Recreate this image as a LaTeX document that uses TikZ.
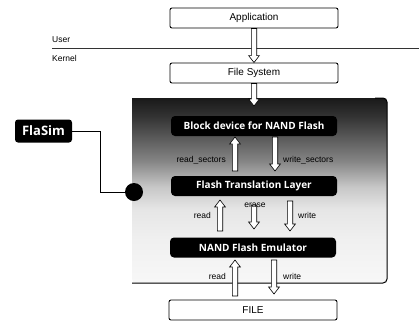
\documentclass[tikz,border=0pt]{standalone}
\usepackage{fontspec}
\setmainfont{Liberation Sans}
\newfontfamily\boxfont{Open Sans}
\usetikzlibrary{calc}

% fill of the kernel area; the path covers the 25bp..75bp band,
% dark at the top edge, fading out towards the bottom
\pgfdeclareverticalshading{kernelfade}{100bp}{%
  color(0bp)=(black!3); color(25bp)=(black!3); color(37bp)=(black!6);
  color(45bp)=(black!10); color(51bp)=(black!22); color(58bp)=(black!48);
  color(70bp)=(black!80); color(75bp)=(black!90); color(100bp)=(black!90)}

\tikzset{
  whitebox/.style={draw=black, line width=0.9pt, fill=white, rounded corners=2pt,
    minimum width=168pt, minimum height=20pt, inner sep=0pt,
    font=\fontsize{10}{12}\selectfont},
  blackbox/.style={fill=black, rounded corners=4pt, text=white,
    minimum width=166pt, minimum height=20pt, inner sep=0pt,
    font=\boxfont\bfseries\fontsize{10}{12}\selectfont},
  lbl/.style={font=\fontsize{8.5}{10}\selectfont, inner sep=0pt},
  hollow/.style={fill=white, draw=black, line width=0.6pt},
  wire/.style={draw=black, line width=1pt},
}

% outlined block arrow from #1 to #2
\newcommand\hollowarrow[2]{%
  \coordinate (ha-h) at ($(#2)!7pt!(#1)$);
  \filldraw[hollow] ($(#1)!2.7pt!90:(#2)$) -- ($(ha-h)!2.7pt!90:(#2)$)
    -- ($(ha-h)!5.4pt!90:(#2)$) -- (#2) -- ($(ha-h)!5.4pt!-90:(#2)$)
    -- ($(ha-h)!2.7pt!-90:(#2)$) -- ($(#1)!2.7pt!-90:(#2)$) -- cycle;
}

\begin{document}
\begin{tikzpicture}[x=1pt, y=-1pt]
\useasboundingbox (0,0) rectangle (419,322);

% kernel area
\shade[shading=kernelfade] (132,283) -- (132,98) [rounded corners=4pt] -- (387,98) -- (387,283) -- cycle;
\draw[line width=1pt, rounded corners=4pt] (132,283) -- (387,283) -- (387,98) -- (375,98);

% user / kernel boundary
\draw[line width=0.8pt, black!80] (52,48) -- (419,48);
\node[lbl, anchor=west] (user) at (52,40) {User};
\node[lbl, anchor=west] (kernel) at (52,58) {Kernel};

% layers
\node[whitebox] (app) at (254,18) {Application};
\node[whitebox] (fs) at (254,73) {File System};
\node[blackbox] (bd) at (254,126) {Block device for NAND Flash};
\node[blackbox] (ftl) at (254,186) {Flash Translation Layer};
\node[blackbox] (nand) at (253,247.5) {NAND Flash Emulator};
\node[whitebox] (file) at (253,310) {FILE};

% simulator tag
\node[fill=black, rounded corners=3pt, minimum width=57pt, minimum height=23pt,
  inner sep=0pt, text=white, font=\boxfont\bfseries\fontsize{13}{15}\selectfont]
  (flasim) at (43.5,131) {FlaSim};
\node[circle, fill=black, minimum size=18pt, inner sep=0pt] (dot) at (134,192) {};
\draw[wire] (flasim.east) -- ++(28,0) |- (dot);

% end points of the block arrows
\coordinate (fsin) at (254,106);
\coordinate (rs1) at (235,171);  \coordinate (rs2) at (235,137);
\coordinate (ws1) at (275,137);  \coordinate (ws2) at (275,171);
\coordinate (fr1) at (220,231);  \coordinate (fr2) at (220,200);
\coordinate (fe1) at (254,205);  \coordinate (fe2) at (254,229);
\coordinate (fw1) at (290,201);  \coordinate (fw2) at (290,231);
\coordinate (nr1) at (235,296);  \coordinate (nr2) at (235,260);
\coordinate (nw1) at (274,260);  \coordinate (nw2) at (274,294);

\hollowarrow{app.south}{fs.north}
\hollowarrow{fs.south}{fsin}
\hollowarrow{rs1}{rs2}
\hollowarrow{ws1}{ws2}
\hollowarrow{fr1}{fr2}
\hollowarrow{fe1}{fe2}
\hollowarrow{fw1}{fw2}
\hollowarrow{nr1}{nr2}
\hollowarrow{nw1}{nw2}

% operation labels
\node[lbl, anchor=east] (lrs) at (226,160) {read\_sectors};
\node[lbl, anchor=west] (lws) at (283,160) {write\_sectors};
\node[lbl, anchor=east] (lfr) at (211,215) {read};
\node[lbl] (lfe) at (255,205) {erase};
\node[lbl, anchor=west] (lfw) at (298,215) {write};
\node[lbl, anchor=east] (lnr) at (226,276) {read};
\node[lbl, anchor=west] (lnw) at (283,276) {write};
\end{tikzpicture}
\end{document}
